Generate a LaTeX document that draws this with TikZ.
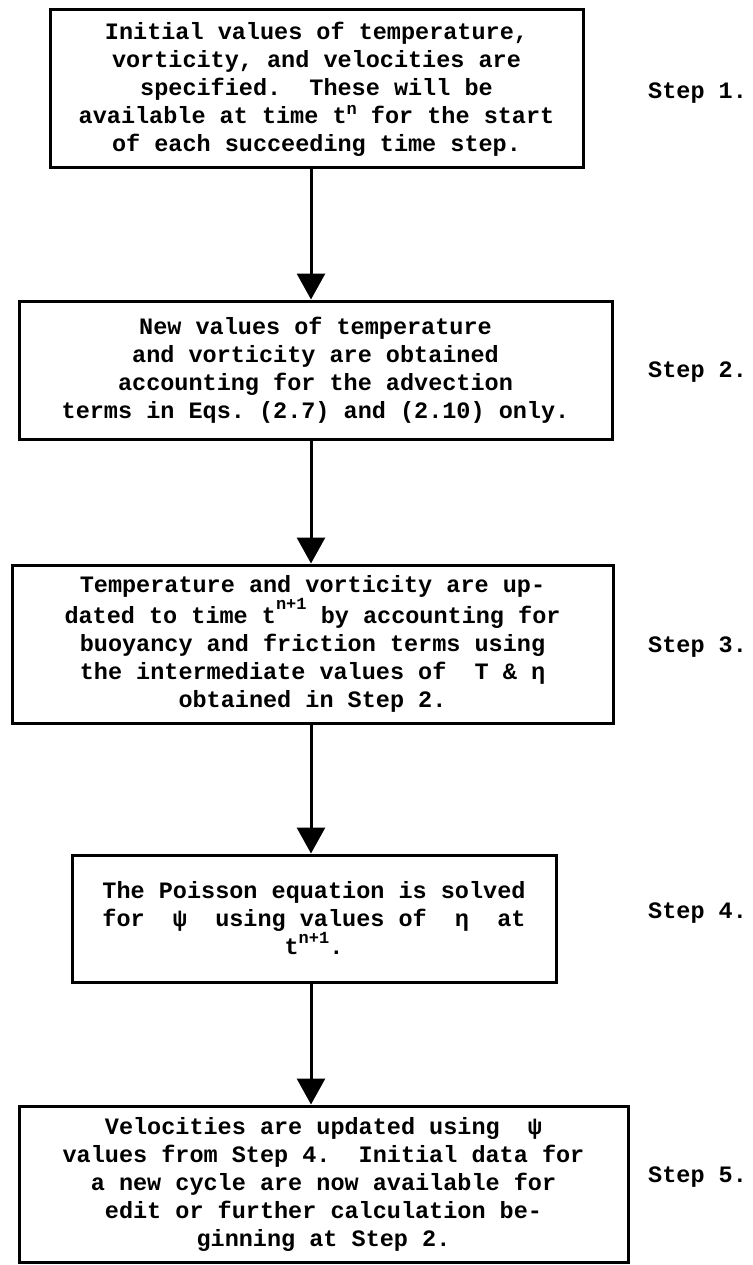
\documentclass[tikz,border=0pt]{standalone}
\usepackage{fontspec}
\setmonofont{Liberation Mono}
\usetikzlibrary{arrows.meta,positioning}

\newcommand{\typed}{\ttfamily\bfseries\fontsize{23.5}{28}\selectfont\frenchspacing}
\newcommand{\sups}[2][9pt]{\raisebox{#1}{\fontsize{17}{17}\selectfont #2}}

\begin{document}
\begin{tikzpicture}[
    x=1pt, y=-1pt,
    stepbox/.style={rectangle, draw, line width=3pt, inner sep=0pt, align=center, font=\typed},
    steplabel/.style={anchor=west, inner sep=0pt, font=\typed},
    arrow/.style={-{Triangle[length=26pt,width=28pt]}, line width=3pt}
]
\useasboundingbox (0,0) rectangle (752,1265);
\coordinate (axis) at (311,0);

\node[stepbox, minimum width=533pt, minimum height=158pt] (init) at (316.5,89)
    {Initial values of temperature,\\
     vorticity, and velocities are\\
     specified.\ \ These will be\\
     available at time t\sups{n} for the start\\
     of each succeeding time step.};
\node[stepbox, minimum width=593pt, minimum height=138pt] (advect) at (315.5,370)
    {New values of temperature\\
     and vorticity are obtained\\
     accounting for the advection\\
     terms in Eqs. (2.7) and (2.10) only.};
\node[stepbox, minimum width=601pt, minimum height=158pt] (update) at (312.5,644)
    {Temperature and vorticity are up-\\
     dated to time t\sups[14pt]{n+1} by accounting for\\
     buoyancy and friction terms using\\
     the intermediate values of\ \ T \& η\\
     obtained in Step 2.};
\node[stepbox, minimum width=484pt, minimum height=127pt] (poisson) at (314,918.5)
    {The Poisson equation is solved\\
     for\ \ ψ\ \ using values of\ \ η\ \ at\\
     t\sups[11pt]{n+1}.};
\node[stepbox, minimum width=609pt, minimum height=156pt] (velo) at (323.5,1184)
    {Velocities are updated using\ \ ψ\\
     values from Step 4.\ \ Initial data for\\
     a new cycle are now available for\\
     edit or further calculation be-\\
     ginning at Step 2.};

\node[steplabel] (s1) at (648,93) {Step 1.};
\node[steplabel] (s2) at (648,372) {Step 2.};
\node[steplabel] (s3) at (648,647) {Step 3.};
\node[steplabel] (s4) at (648,913) {Step 4.};
\node[steplabel] (s5) at (648,1177) {Step 5.};

\draw[arrow] (init.south -| axis) -- (advect.north -| axis);
\draw[arrow] (advect.south -| axis) -- (update.north -| axis);
\draw[arrow] (update.south -| axis) -- (poisson.north -| axis);
\draw[arrow] (poisson.south -| axis) -- (velo.north -| axis);
\end{tikzpicture}
\end{document}
